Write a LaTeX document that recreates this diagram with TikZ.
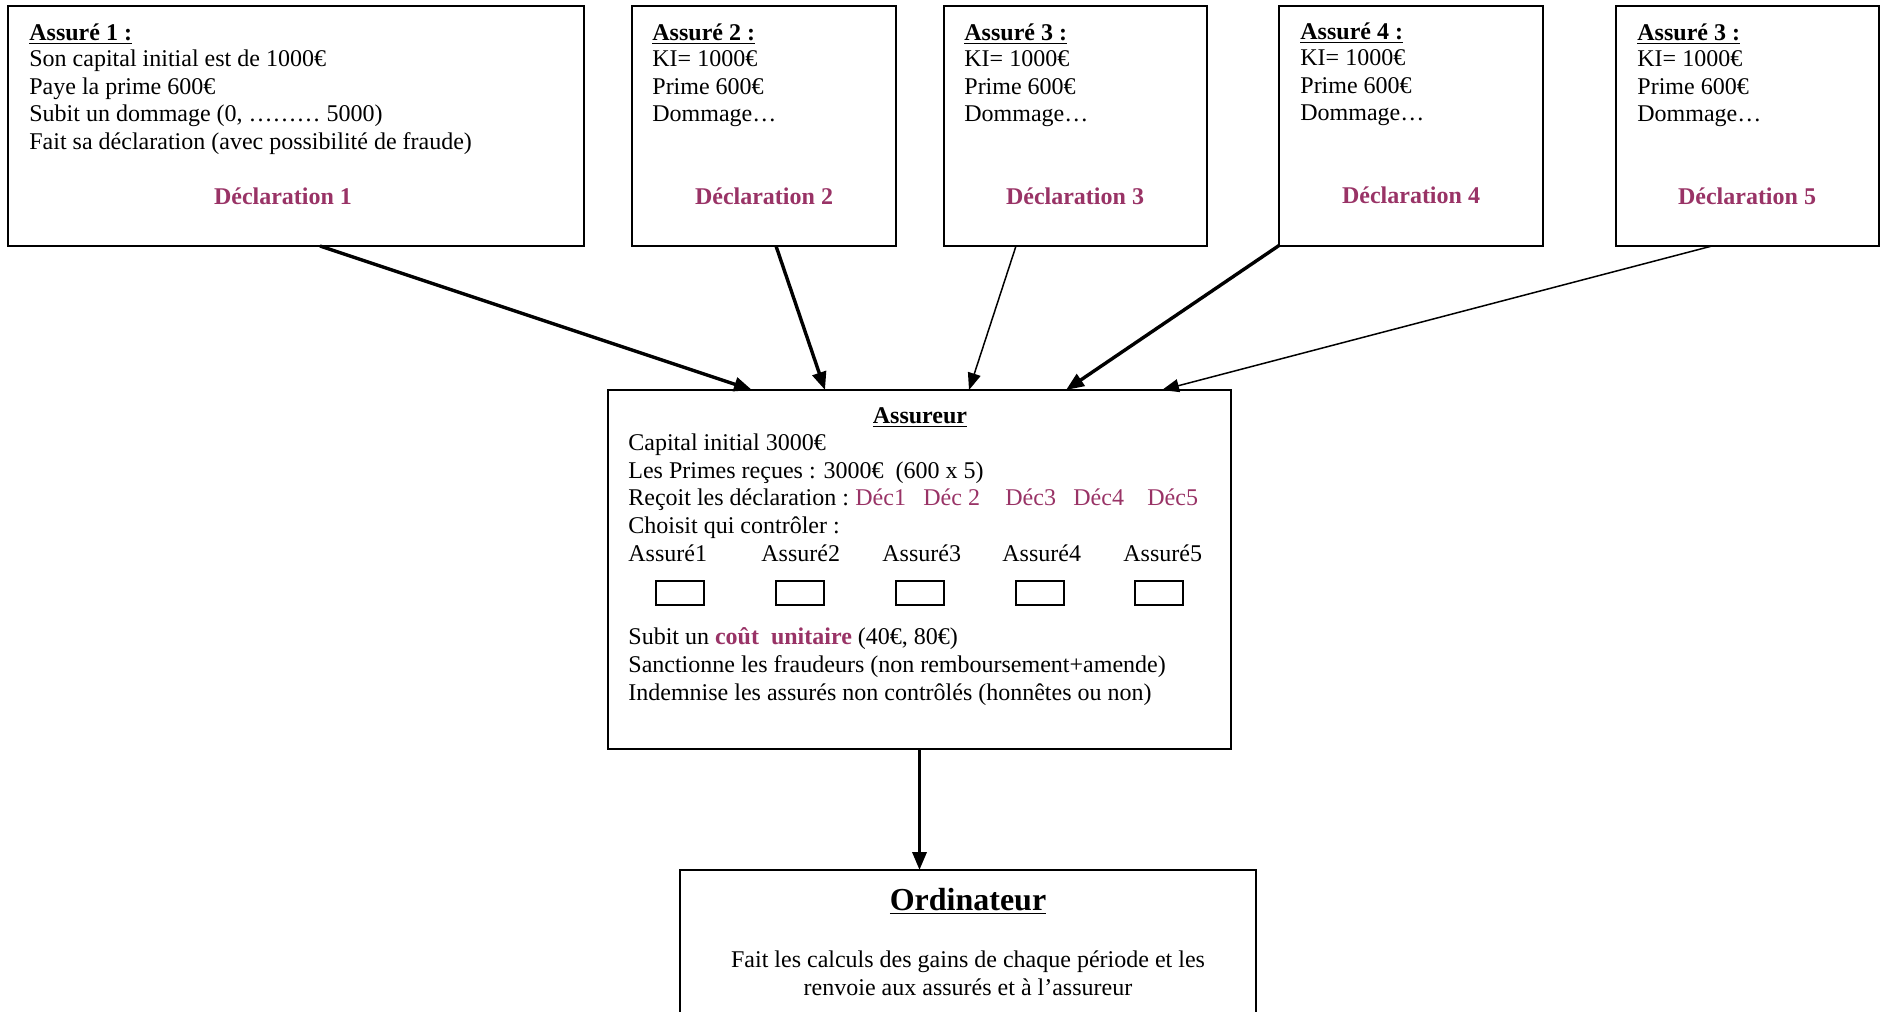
\documentclass[tikz,border=0pt]{standalone}
\usepackage{fontspec}
\setmainfont{Liberation Serif}
\usetikzlibrary{arrows.meta}
\definecolor{plum}{RGB}{153,51,102}
\begin{document}
\begin{tikzpicture}[x=0.5pt,y=-0.5pt,
  box/.style={draw, line width=1pt, inner sep=0, outer sep=0},
  txt/.style={anchor=west, inner sep=0, yshift=-1.75pt, font=\fontsize{12}{13.8}\selectfont, text height=8.2pt, text depth=2.6pt},
  ctxt/.style={txt, anchor=center},
  decl/.style={ctxt, text=plum, font=\fontsize{12}{13.8}\selectfont\bfseries},
  dec/.style={txt, text=plum},
  bigarr/.style={line width=1.7pt, -{Triangle[length=9pt,width=7pt]}},
  smallarr/.style={line width=0.75pt, -{Triangle[length=8.5pt,width=6.5pt]}},
  chk/.style={draw, line width=0.9pt, minimum width=24pt, minimum height=12pt, inner sep=0, outer sep=0}]
\useasboundingbox (0,0) rectangle (1880,1012);
\clip (0,0) rectangle (1880,1012);
\fill[white] (0,0) rectangle (1880,1012);

% top boxes
\node[box, minimum width=288pt, minimum height=120pt] (b1) at (296,126) {};
\node[box, minimum width=132pt, minimum height=120pt] (b2) at (764,126) {};
\node[box, minimum width=131.5pt, minimum height=120pt] (b3) at (1075.5,126) {};
\node[box, minimum width=132pt, minimum height=120pt] (b4) at (1411,125.5) {};
\node[box, minimum width=131.5pt, minimum height=120pt] (b5) at (1747.5,126) {};

% box 1 text
\node[txt] (t1h) at (29,31) {\textbf{\underline{Assuré 1 :}}};
\node[txt] (t1a) at (29,57.5) {Son capital initial est de 1000€};
\node[txt] (t1b) at (29,85) {Paye la prime 600€};
\node[txt] (t1c) at (29,112.5) {Subit un dommage (0, ……… 5000)};
\node[txt] (t1d) at (29,140) {Fait sa déclaration (avec possibilité de fraude)};
\node[decl] (d1) at (283,195) {Déclaration 1};

% box 2 text
\node[txt] (t2h) at (652,31) {\textbf{\underline{Assuré 2 :}}};
\node[txt] (t2a) at (652,57.5) {KI= 1000€};
\node[txt] (t2b) at (652,85) {Prime 600€};
\node[txt] (t2c) at (652,112.5) {Dommage…};
\node[decl] (d2) at (764,195) {Déclaration 2};

% box 3 text
\node[txt] (t3h) at (964,31) {\textbf{\underline{Assuré 3 :}}};
\node[txt] (t3a) at (964,57.5) {KI= 1000€};
\node[txt] (t3b) at (964,85) {Prime 600€};
\node[txt] (t3c) at (964,112.5) {Dommage…};
\node[decl] (d3) at (1075,195) {Déclaration 3};

% box 4 text
\node[txt] (t4h) at (1300,30) {\textbf{\underline{Assuré 4 :}}};
\node[txt] (t4a) at (1300,56.5) {KI= 1000€};
\node[txt] (t4b) at (1300,84) {Prime 600€};
\node[txt] (t4c) at (1300,111.5) {Dommage…};
\node[decl] (d4) at (1411,194) {Déclaration 4};

% box 5 text
\node[txt] (t5h) at (1637,31) {\textbf{\underline{Assuré 3 :}}};
\node[txt] (t5a) at (1637,57.5) {KI= 1000€};
\node[txt] (t5b) at (1637,85) {Prime 600€};
\node[txt] (t5c) at (1637,112.5) {Dommage…};
\node[decl] (d5) at (1747,195) {Déclaration 5};

% Assureur
\node[box, minimum width=311.5pt, minimum height=179.5pt] (as) at (919.5,569.5) {};
\node[ctxt] (ash) at (920,414) {\textbf{\underline{Assureur}}};
\node[txt] (asa) at (628,441) {Capital initial 3000€};
\node[txt] (asb) at (628,469) {Les Primes reçues : 3000€~~(600 x 5)};
\node[txt] (asc) at (628,496) {Reçoit les déclaration :};
\node[dec] (dc1) at (855,496) {Déc1};
\node[dec] (dc2) at (923,496) {Déc 2};
\node[dec] (dc3) at (1005,496) {Déc3};
\node[dec] (dc4) at (1073,496) {Déc4};
\node[dec] (dc5) at (1147,496) {Déc5};
\node[txt] (asd) at (628,524) {Choisit qui contrôler :};
\node[txt] (ax1) at (628,552) {Assuré1};
\node[txt] (ax2) at (761,552) {Assuré2};
\node[txt] (ax3) at (882,552) {Assuré3};
\node[txt] (ax4) at (1002,552) {Assuré4};
\node[txt] (ax5) at (1123,552) {Assuré5};
\node[chk] (c1) at (680,593) {};
\node[chk] (c2) at (800,593) {};
\node[chk] (c3) at (920,593) {};
\node[chk] (c4) at (1040,593) {};
\node[chk] (c5) at (1159,593) {};
\node[txt] (ase) at (628,635) {Subit un \textbf{\color{plum}coût~~unitaire} (40€, 80€)};
\node[txt] (asf) at (628,663) {Sanctionne les fraudeurs (non remboursement+amende)};
\node[txt] (asg) at (628,691) {Indemnise les assurés non contrôlés (honnêtes ou non)};

% Ordinateur
\node[box, minimum width=288pt, minimum height=95pt] (ord) at (968,965) {};
\node[ctxt, font=\fontsize{16}{18}\selectfont\bfseries, text height=11pt, text depth=3.5pt] (ordh) at (968,899) {\underline{Ordinateur}};
\node[ctxt] (orda) at (968,958) {Fait les calculs des gains de chaque période et les};
\node[ctxt] (ordb) at (968,986) {renvoie aux assurés et à l’assureur};

% connectors
\draw[bigarr] ([xshift=156pt]b1.south west) -- ([xshift=72pt]as.north west);
\draw[bigarr] ([xshift=72pt]b2.south west) -- ([xshift=108.5pt]as.north west);
\draw[smallarr] ([xshift=36pt]b3.south west) -- ([xshift=180.5pt]as.north west);
\draw[bigarr] (b4.south west) -- ([xshift=229pt]as.north west);
\draw[smallarr] ([xshift=48pt]b5.south west) -- ([xshift=277pt]as.north west);
\draw[bigarr] (as.south) -- (as.south |- ord.north);
\end{tikzpicture}
\end{document}
